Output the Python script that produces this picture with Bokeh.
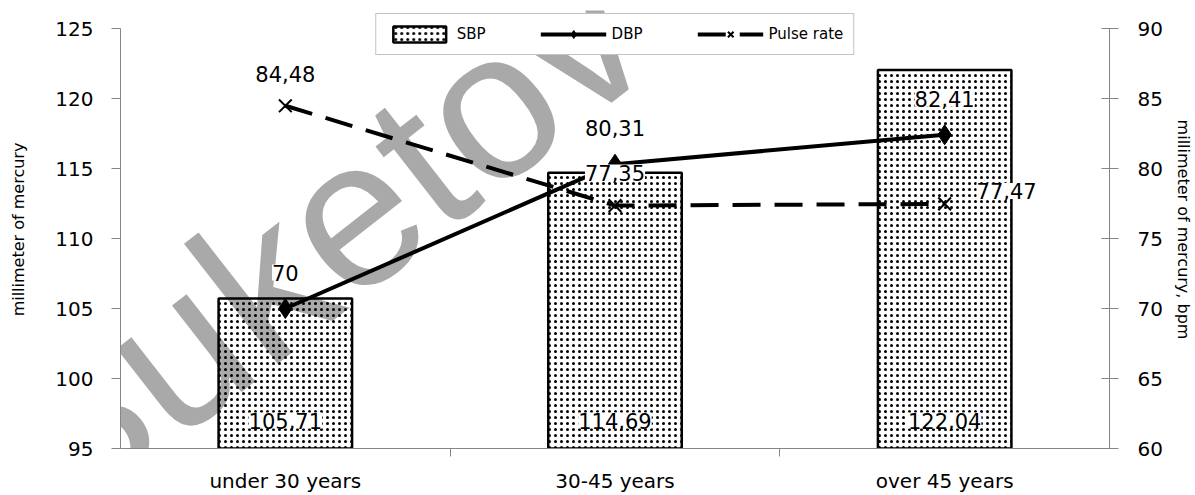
import math
from bokeh.plotting import figure
from bokeh.models import (ColumnDataSource, Range1d, LinearAxis, FixedTicker, LabelSet, Label,
                          Legend, LegendItem)
from bokeh.core.properties import value
from bokeh.embed import file_html
from bokeh.resources import INLINE

# ---- data ----
categories = ["under 30 years", "30-45 years", "over 45 years"]
sbp = [105.71, 114.69, 122.04]
dbp = [70, 80.31, 82.41]
pulse = [84.48, 77.35, 77.47]
left_ticks = [95, 100, 105, 110, 115, 120, 125]
right_ticks = [60, 65, 70, 75, 80, 85, 90]
left_title = "millimeter of mercury"
right_title = "millimeter of mercury, bpm"
watermark = "Buketov"

# ---- styles ----
FONT = "DejaVu Sans"
AXIS_GRAY = "#868686"
dbp_label_dy = [36, 36, 36]
pulse_label_dx = [0, 0, 62]
pulse_label_dy = [32, 33, 13]


def fmt(v):
    return ("%g" % v).replace(".", ",")


n = len(categories)
xc = [i + 0.5 for i in range(n)]          # category centres on a numeric axis
left_lo, left_hi = left_ticks[0], left_ticks[-1]
right_lo, right_hi = right_ticks[0], right_ticks[-1]
top_extra = 1.286

src = ColumnDataSource(dict(
    x=xc, sbp=sbp, dbp=dbp, pulse=pulse,
    base=[left_lo] * n,
    sbp_t=[fmt(v) for v in sbp], dbp_t=[fmt(v) for v in dbp], pulse_t=[fmt(v) for v in pulse],
    dbp_dy=dbp_label_dy, p_dx=pulse_label_dx, p_dy=pulse_label_dy,
))

p = figure(width=1195, height=495,
           x_range=Range1d(0, n),
           y_range=Range1d(left_lo, left_hi + top_extra),
           output_backend="svg", toolbar_location=None, x_axis_location=None,
           min_border_left=120, min_border_right=82, min_border_top=10, min_border_bottom=47)
p.extra_y_ranges = {"pulse": Range1d(right_lo, right_hi + top_extra)}
p.outline_line_color = None
p.xgrid.grid_line_color = None
p.ygrid.grid_line_color = None
p.background_fill_color = "white"
p.border_fill_color = "white"

# watermark
wm = Label(x=0.6, y=109.9, text=watermark, angle=38, angle_units="deg",
           text_font="Liberation Sans", text_font_size="210px", text_color="#a9a9a9",
           text_align="center", text_baseline="middle", level="underlay")
p.add_layout(wm)

# left axis
ya = p.yaxis[0]
ya.ticker = FixedTicker(ticks=left_ticks)
ya.bounds = (left_lo, left_hi)
ya.axis_line_color = AXIS_GRAY
ya.major_tick_line_color = AXIS_GRAY
ya.major_tick_out = 9
ya.major_tick_in = 0
ya.minor_tick_line_color = None
ya.major_label_text_font = FONT
ya.major_label_text_font_size = "20px"
ya.major_label_text_color = "black"
ya.major_label_standoff = 18
ya.axis_label = left_title
ya.axis_label_text_font = FONT
ya.axis_label_text_font_size = "16px"
ya.axis_label_text_font_style = "normal"
ya.axis_label_text_color = "black"
ya.axis_label_standoff = 24

# right axis
ra = LinearAxis(y_range_name="pulse", ticker=FixedTicker(ticks=right_ticks), bounds=(right_lo, right_hi))
ra.axis_line_color = AXIS_GRAY
ra.major_tick_line_color = AXIS_GRAY
ra.major_tick_out = 9
ra.major_tick_in = 8
ra.minor_tick_line_color = None
ra.major_label_text_font = FONT
ra.major_label_text_font_size = "20px"
ra.major_label_text_color = "black"
ra.major_label_standoff = 19
ra.axis_label = right_title
ra.axis_label_text_font = FONT
ra.axis_label_text_font_size = "16px"
ra.axis_label_text_font_style = "normal"
ra.axis_label_text_color = "black"
ra.axis_label_standoff = 8
p.add_layout(ra, "right")

# bottom axes: separator ticks (closest) + category labels
ta = LinearAxis(ticker=FixedTicker(ticks=list(range(1, n))))
ta.axis_line_color = AXIS_GRAY
ta.major_tick_line_color = AXIS_GRAY
ta.major_tick_out = 8
ta.major_tick_in = 0
ta.minor_tick_line_color = None
ta.major_label_text_font_size = "0px"
ta.major_label_standoff = 0
p.add_layout(ta, "below")

ca = LinearAxis(ticker=FixedTicker(ticks=xc),
                major_label_overrides={x: c for x, c in zip(xc, categories)})
ca.axis_line_color = None
ca.major_tick_line_color = None
ca.minor_tick_line_color = None
ca.major_label_text_font = FONT
ca.major_label_text_font_size = "20px"
ca.major_label_text_color = "black"
ca.major_label_standoff = 6
p.add_layout(ca, "below")

# bars
bars = p.vbar(x="x", top="sbp", bottom="base", width=0.405, source=src,
              fill_color="white", fill_alpha=0, line_color="black", line_width=2.5,
              hatch_pattern="dot", hatch_color="black", hatch_scale=6, hatch_weight=1.5)

# DBP
dl = p.line(x="x", y="dbp", source=src, y_range_name="pulse", line_color="black", line_width=4)
dm = p.scatter(x="x", y="dbp", source=src, y_range_name="pulse", marker="diamond", size=20,
               fill_color="black", line_color="black")

# Pulse rate
pl = p.line(x="x", y="pulse", source=src, y_range_name="pulse", line_color="black", line_width=4,
            line_dash="28 14")
pm = p.scatter(x="x", y="pulse", source=src, y_range_name="pulse", marker="x", size=18,
               line_color="black", line_width=2)

# data labels
lab_kw = dict(text_font=value(FONT), text_font_size="21px", text_color="black",
              text_align="center", text_baseline="middle", background_fill_color="white")
p.add_layout(LabelSet(x="x", y="base", text="sbp_t", source=src, y_offset=28, **lab_kw))
p.add_layout(LabelSet(x="x", y="dbp", text="dbp_t", source=src, y_range_name="pulse",
                      y_offset="dbp_dy", **lab_kw))
p.add_layout(LabelSet(x="x", y="pulse", text="pulse_t", source=src, y_range_name="pulse",
                      x_offset="p_dx", y_offset="p_dy", **lab_kw))

# legend
legend = Legend(items=[LegendItem(label="SBP", renderers=[bars]),
                       LegendItem(label="DBP", renderers=[dl, dm]),
                       LegendItem(label="Pulse rate", renderers=[pl, pm])],
                orientation="horizontal", location="top_center", margin=3,
                padding=10, spacing=55, glyph_width=66, glyph_height=20, label_standoff=5,
                label_text_font=FONT, label_text_font_size="15px", label_text_color="black",
                border_line_color=AXIS_GRAY, border_line_width=1,
                background_fill_color="white", background_fill_alpha=1)
p.add_layout(legend)

open("out.html", "w").write(file_html(p, INLINE))
